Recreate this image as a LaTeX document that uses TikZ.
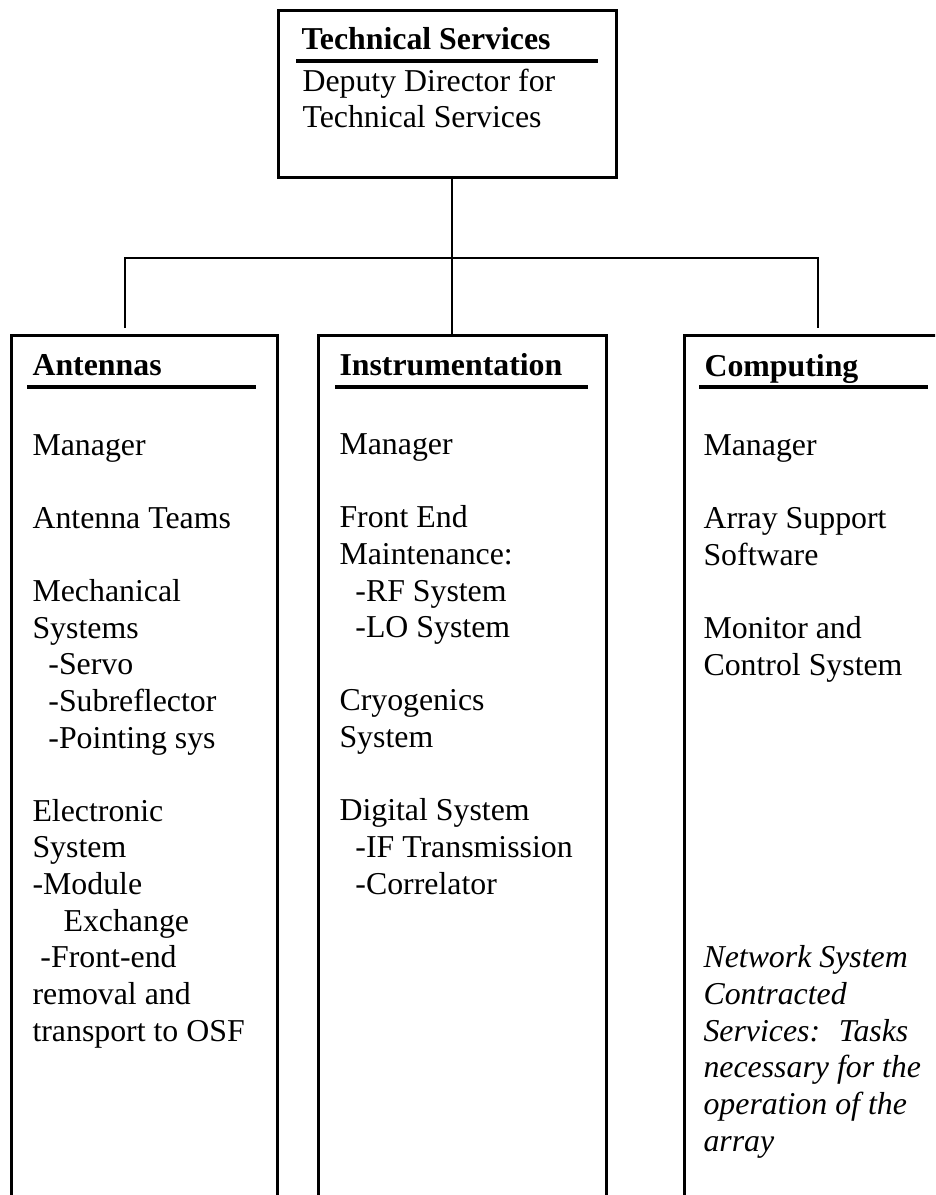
\documentclass[tikz,border=0pt]{standalone}
\usepackage{fontspec}
\setmainfont{Liberation Serif}
\usetikzlibrary{positioning}
\newcommand\pxu{0.377pt}

\begin{document}
\begin{tikzpicture}[x=0.377pt,y=-0.377pt,
  box/.style={draw,rectangle,line width=1.1pt,inner sep=0pt,anchor=north west},
  txt/.style={inner sep=0pt,anchor=base west,align=left,font=\fontsize{12}{13.8}\selectfont},
  head/.style={txt,font=\fontsize{12}{13.8}\selectfont\bfseries},
  rule/.style={line width=1.4pt},
  link/.style={line width=0.6pt}]
  \path[use as bounding box,clip] (0,0) rectangle (935,1195);

  % top box
  \node[box,minimum width=338*\pxu,minimum height=167*\pxu] (top) at (277,9) {};
  \node[head] (toptitle) at (301,50) {Technical Services};
  % multi-line texts sit on the baseline of their last line
  \node[txt] (topbody) at (302,128) {Deputy Director for\\Technical Services};

  % the three divisions (open at the bottom)
  \node[box,minimum width=266*\pxu,minimum height=1000*\pxu] (ant) at (10,334) {};
  \node[box,minimum width=288*\pxu,minimum height=1000*\pxu] (instr) at (317,334) {};
  \node[box,minimum width=400*\pxu,minimum height=1000*\pxu] (comp) at (683,334) {};

  \node[head] (anttitle) at (32,375) {Antennas};
  \node[head] (instrtitle) at (339,375) {Instrumentation};
  \node[head] (comptitle) at (704,376) {Computing};

  \foreach \xa/\xb/\y in {296/598/61, 27/256/387, 335/588/387, 699/928/387}
    \draw[rule] (\xa,\y) -- (\xb,\y);

  \node[txt] (antbody) at (32,1041) {Manager\\[\baselineskip]
    Antenna Teams\\[\baselineskip]
    Mechanical\\
    Systems\\
    \hspace*{6pt}-Servo\\
    \hspace*{6pt}-Subreflector\\
    \hspace*{6pt}-Pointing sys\\[\baselineskip]
    Electronic\\
    System\\
    -Module\\
    \hspace*{11.7pt}Exchange\\
    \hspace*{3pt}-Front-end\\
    removal and\\
    transport to OSF};

  \node[txt] (instrbody) at (339,894) {Manager\\[\baselineskip]
    Front End\\
    Maintenance:\\
    \hspace*{6pt}-RF System\\
    \hspace*{6pt}-LO System\\[\baselineskip]
    Cryogenics\\
    System\\[\baselineskip]
    Digital System\\
    \hspace*{6pt}-IF Transmission\\
    \hspace*{6pt}-Correlator};

  \node[txt] (compbody) at (703,675) {Manager\\[\baselineskip]
    Array Support\\
    Software\\[\baselineskip]
    Monitor and\\
    Control System};

  \node[txt,font=\fontsize{12}{13.8}\selectfont\itshape] (network) at (703,1151) {Network System\\
    Contracted\\
    Services:~ Tasks\\
    necessary for the\\
    operation of the\\
    array};

  % connectors
  \coordinate (junc) at (452,258);
  \coordinate (antdrop) at (125,328);
  \coordinate (compdrop) at (818,328);
  \draw[link] (top.south -| junc) -- (junc |- instr.north);
  \draw[link] (antdrop) |- (junc) -| (compdrop);
\end{tikzpicture}
\end{document}
